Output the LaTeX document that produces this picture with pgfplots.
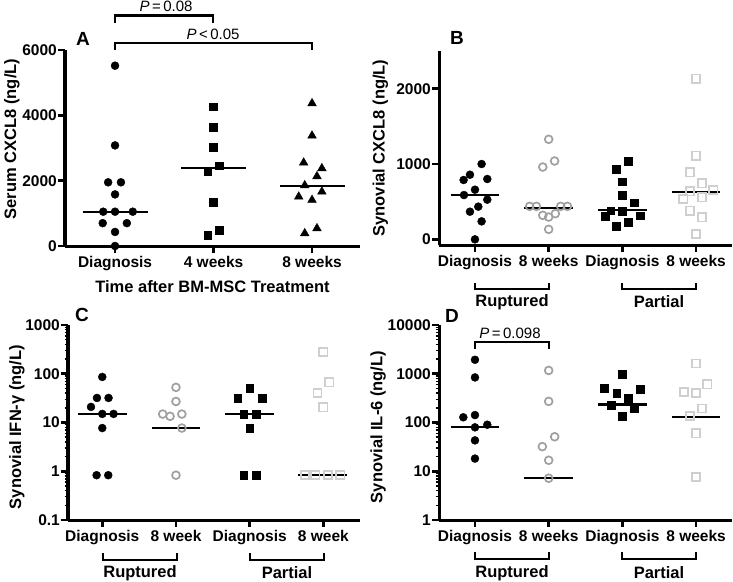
\documentclass[border=0pt]{standalone}
\usepackage{fontspec}
\setmainfont{Liberation Sans}
\usepackage{pgfplots}
\pgfplotsset{compat=1.18}
\definecolor{midgray}{HTML}{A0A0A0}
\definecolor{lightgraytwo}{HTML}{CFCFCF}
\newcommand{\tickfont}{\fontsize{15.5bp}{17bp}\selectfont\bfseries}
\newcommand{\labfont}{\fontsize{16.5bp}{18bp}\selectfont\bfseries}
\newcommand{\panfont}{\fontsize{19bp}{21bp}\selectfont\bfseries}
\newcommand{\pfont}{\fontsize{15bp}{17bp}\selectfont}
\pgfplotsset{
  prism/.style={
    scale only axis, clip=false,
    axis lines=left,
    axis line style={-, line width=3bp},
    major tick style={black, line width=2.6bp},
    minor tick style={black, line width=1.4bp},
    major tick length=7bp, minor tick length=3.5bp,
    tick align=outside,
    xtick pos=left, ytick pos=left,
    xticklabel style={font=\tickfont, inner sep=1bp, yshift=-2.5bp},
    yticklabel style={font=\tickfont, inner sep=1bp},
    anchor=south west,
  },
  filc/.style={only marks, mark=*, mark size=4bp, black},
  opc/.style={only marks, mark=o, mark size=3.9bp, midgray, mark options={line width=1.7bp}},
  fils/.style={only marks, mark=square*, mark size=3.9bp, black},
  ops/.style={only marks, mark=square, mark size=4.1bp, lightgraytwo, mark options={line width=1.7bp}},
  filt/.style={only marks, mark=triangle*, mark size=5bp, black},
  med/.style={black, line width=2.2bp, no marks},
}
\begin{document}
\begin{tikzpicture}
\path[use as bounding box] (0,0) rectangle (733bp,-582bp);

% ---------------- Panel A ----------------
\begin{axis}[prism,
  at={(65bp,-246bp)}, width=295bp, height=196bp,
  xmin=-0.508, xmax=2.487, ymin=0, ymax=6000,
  xtick={0,1,2}, xticklabels={Diagnosis,4 weeks,8 weeks},
  ytick={0,2000,4000,6000}, yticklabels={0,2000,4000,6000},
  every axis y label/.style={at={(axis description cs:-0.18,0.546)},rotate=90,anchor=center,font=\labfont},
  every axis x label/.style={at={(axis description cs:0.5,-0.209)},anchor=center,font=\labfont},
  ylabel={Serum CXCL8 (ng/L)}, xlabel={Time after BM-MSC Treatment},
]
\addplot[filc] coordinates {(0,5520) (0,3080) (-0.07,1950) (0.06,1950) (0,1580) (-0.12,1050) (0,1050) (0.18,1050) (-0.125,700) (0.12,700) (0,430) (0,0)};
\addplot[fils] coordinates {(1,4265) (1,3633) (1,3031) (1.06,2459) (0.94,2276) (1,1337) (1.06,490) (0.94,337)};
\addplot[filt] coordinates {(2,4367) (2,3378) (1.915,2551) (2.10,2378) (2.05,2133) (1.926,1857) (2.10,1663) (1.865,1510) (2,1408) (2.05,540) (1.926,388)};
\addplot[med] coordinates {(-0.33,1050) (0.33,1050)};
\addplot[med] coordinates {(0.67,2390) (1.33,2390)};
\addplot[med] coordinates {(1.67,1840) (2.33,1840)};
\end{axis}

% ---------------- Panel B ----------------
\begin{axis}[prism,
  at={(439bp,-245bp)}, width=293bp, height=194bp,
  xmin=-0.488, xmax=3.487, ymin=-75, ymax=2500,
  xtick={0,1,2,3}, xticklabels={Diagnosis,8 weeks,Diagnosis,8 weeks},
  ytick={0,1000,2000}, yticklabels={0,1000,2000},
  every axis y label/.style={at={(axis description cs:-0.2,0.5)},rotate=90,anchor=center,font=\labfont},
  ylabel={Synovial CXCL8 (ng/L)},
]
\addplot[filc] coordinates {(0.09,1000) (-0.068,858) (-0.154,788) (0.167,801) (0,659) (-0.149,588) (0.167,527) (0.045,434) (-0.068,367) (0.09,239) (0,0)};
\addplot[opc] coordinates {(1,1328) (1.08,1040) (0.92,960) (0.742,438) (0.833,438) (1.163,438) (1.254,438) (0.92,319) (1,296) (1.09,341) (1,133)};
\addplot[fils] coordinates {(2.081,1040) (1.919,934) (2,765) (2,588) (2.158,487) (1.842,381) (2,372) (2.24,314) (1.765,310) (2.081,226) (1.919,173)};
\addplot[ops] coordinates {(3,2133) (3,1111) (2.919,889) (3.077,743) (3.235,655) (2.919,637) (3.077,558) (2.828,535) (2.919,381) (3.077,292) (3,71)};
\addplot[med] coordinates {(-0.33,585) (0.33,585)};
\addplot[med] coordinates {(0.67,421) (1.33,421)};
\addplot[med] coordinates {(1.67,385) (2.33,385)};
\addplot[med] coordinates {(2.67,628) (3.33,628)};
\end{axis}

% ---------------- Panel C ----------------
\begin{axis}[prism,
  at={(68bp,-520bp)}, width=292bp, height=195bp,
  ymode=log,
  xmin=-0.465, xmax=3.497, ymin=0.1, ymax=1000,
  xtick={0,1,2,3}, xticklabels={Diagnosis,8 week,Diagnosis,8 week},
  ytick={0.1,1,10,100,1000}, yticklabels={0.1,1,10,100,1000},
  minor ytick={0.2,0.3,0.4,0.5,0.6,0.7,0.8,0.9,2,3,4,5,6,7,8,9,20,30,40,50,60,70,80,90,200,300,400,500,600,700,800,900},
  every axis y label/.style={at={(axis description cs:-0.175,0.477)},rotate=90,anchor=center,font=\labfont},
  ylabel={Synovial IFN-γ (ng/L)},
]
\addplot[filc] coordinates {(0,86) (-0.072,31.9) (0.085,31.9) (-0.153,20.9) (0,15) (0.153,15) (0,7.7) (-0.077,0.83) (0.081,0.83)};
\addplot[opc] coordinates {(1,52.6) (1,27) (0.82,14.9) (0.92,13.4) (1.08,14.9) (1.08,7.7) (1,0.83)};
\addplot[fils] coordinates {(2,50.9) (1.837,31.7) (2.167,31.7) (1.919,14.9) (2.086,14.9) (2,7.7) (1.919,0.83) (2.086,0.83)};
\addplot[ops] coordinates {(3,280) (3.08,66.6) (2.92,40.4) (3,20.5) (2.75,0.83) (2.89,0.83) (3.06,0.83) (3.23,0.83)};
\addplot[med] coordinates {(-0.33,14.9) (0.33,14.9)};
\addplot[med] coordinates {(0.67,7.7) (1.33,7.7)};
\addplot[med] coordinates {(1.67,14.9) (2.33,14.9)};
\addplot[med] coordinates {(2.66,0.83) (3.32,0.83)};
\end{axis}

% ---------------- Panel D ----------------
\begin{axis}[prism,
  at={(439bp,-520bp)}, width=293bp, height=195bp,
  ymode=log,
  xmin=-0.488, xmax=3.487, ymin=1, ymax=10000,
  xtick={0,1,2,3}, xticklabels={Diagnosis,8 weeks,Diagnosis,8 weeks},
  ytick={1,10,100,1000,10000}, yticklabels={1,10,100,1000,10000},
  minor ytick={2,3,4,5,6,7,8,9,20,30,40,50,60,70,80,90,200,300,400,500,600,700,800,900,2000,3000,4000,5000,6000,7000,8000,9000},
  every axis y label/.style={at={(axis description cs:-0.208,0.477)},rotate=90,anchor=center,font=\labfont},
  ylabel={Synovial IL-6 (ng/L)},
]
\addplot[filc] coordinates {(0,1936) (0,841) (-0.158,128) (0,142) (0,79.6) (0.167,90) (0,43) (0,18.2)};
\addplot[opc] coordinates {(1,1170) (1,271) (1.081,51) (0.914,32) (1,16.8) (1,7.2)};
\addplot[fils] coordinates {(2,967) (1.756,500) (2.24,477) (1.924,395) (2.081,312) (1.843,227) (2.159,194) (2,137)};
\addplot[ops] coordinates {(3,1626) (3.153,604) (2.837,426) (3,406) (3.077,194) (2.919,135) (3,60) (3,7.7)};
\addplot[med] coordinates {(-0.33,79.6) (0.33,79.6)};
\addplot[med] coordinates {(0.67,7.2) (1.33,7.2)};
\addplot[med] coordinates {(1.67,235) (2.33,235)};
\addplot[med] coordinates {(2.67,131) (3.33,131)};
\end{axis}

% ---------------- Annotations ----------------
\begin{scope}[x=1bp,y=-1bp]
\tikzset{br/.style={line width=2.4bp}}
% panel letters
\node[font=\panfont] at (83,39) {A};
\node[font=\panfont] at (457,38) {B};
\node[font=\panfont] at (82,315) {C};
\node[font=\panfont] at (452,316) {D};
% A brackets
\draw[br] (115,23) -- (115,15.5) -- (213,15.5) -- (213,23);
\node[font=\pfont] at (166,6) {\textit{P}\,=\,0.08};
\draw[br] (115,50) -- (115,43) -- (312,43) -- (312,50);
\node[font=\pfont] at (213,34) {\textit{P}\,<\,0.05};
% B groups
\draw[br] (475,283) -- (475,289) -- (549,289) -- (549,283);
\node[font=\labfont] at (512,302) {Ruptured};
\draw[br] (622,283) -- (622,289) -- (696,289) -- (696,283);
\node[font=\labfont] at (659,302) {Partial};
% C groups
\draw[br] (103,553) -- (103,560) -- (177,560) -- (177,553);
\node[font=\labfont] at (140,573) {Ruptured};
\draw[br] (250,553) -- (250,560) -- (324,560) -- (324,553);
\node[font=\labfont] at (287,573) {Partial};
% D bracket and groups
\draw[br] (475,349) -- (475,342) -- (549,342) -- (549,349);
\node[font=\pfont] at (510,333) {\textit{P}\,=\,0.098};
\draw[br] (475,552) -- (475,559) -- (549,559) -- (549,552);
\node[font=\labfont] at (512,573) {Ruptured};
\draw[br] (622,552) -- (622,559) -- (696,559) -- (696,552);
\node[font=\labfont] at (659,573) {Partial};
\end{scope}
\end{tikzpicture}
\end{document}
